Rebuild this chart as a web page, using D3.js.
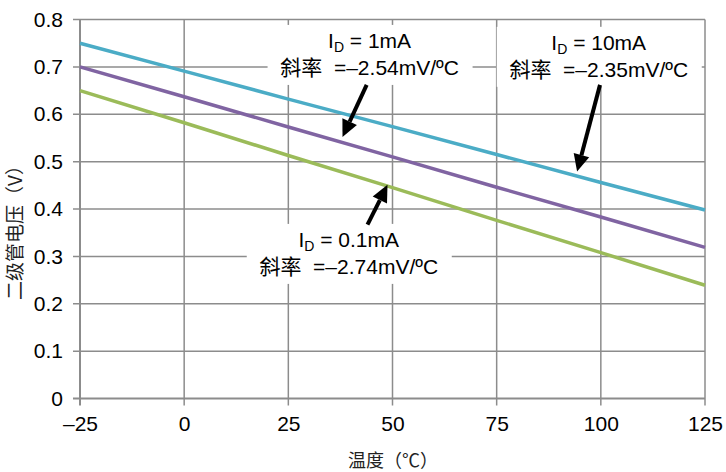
<!DOCTYPE html>
<html><head><meta charset="utf-8">
<script src="https://cdn.jsdelivr.net/npm/d3@7"></script>
<style>body{margin:0;background:#fff}svg{display:block}</style>
</head><body><svg id="c" width="726" height="472"></svg>
<script>
const temps = [-25, 0, 25, 50, 75, 100, 125];
const xTickLabels = ["–25", "0", "25", "50", "75", "100", "125"];
const yTicks = [0, 0.1, 0.2, 0.3, 0.4, 0.5, 0.6, 0.7, 0.8];
const yTickLabels = ["0", "0.1", "0.2", "0.3", "0.4", "0.5", "0.6", "0.7", "0.8"];
const v10mA = [0.750, 0.691, 0.632, 0.574, 0.515, 0.456, 0.398];
const v1mA = [0.700, 0.637, 0.573, 0.510, 0.446, 0.383, 0.319];
const v01mA = [0.650, 0.582, 0.513, 0.445, 0.376, 0.308, 0.239];
const seriesNames = ["10mA", "1mA", "0.1mA"];
const seriesColors = ["#4bacc6", "#8064a2", "#9bbb59"];
const annCurrent = ["1mA", "10mA", "0.1mA"];
const annSlope = ["–2.54", "–2.35", "–2.74"];
const annTextX = [44.5, 99.5, 39.5];
const annTextY = [0.740, 0.736, 0.320];
const annTailX = [43.8, 99.8, 44.0];
const annTailY = [0.662, 0.662, 0.367];
const annTipX = [38.0, 94.3, 48.8];
const annTipY = [0.552, 0.479, 0.451];

const svg = d3.select("#c");
const font = "'Liberation Sans', Arial, 'Noto Sans CJK SC', sans-serif";
const x = d3.scaleLinear().domain([-25, 125]).range([80, 705]);
const y = d3.scaleLinear().domain([0, 0.8]).range([398.5, 19.5]);
const grid = "#8c8c8c";

// horizontal gridlines
svg.append("g").selectAll("line").data(yTicks).join("line")
  .attr("x1", 73).attr("x2", x(125)).attr("y1", d => y(d)).attr("y2", d => y(d))
  .attr("stroke", grid).attr("stroke-width", d => d === 0 ? 2 : 1.5);
// vertical gridlines
svg.append("g").selectAll("line").data(temps).join("line")
  .attr("x1", d => x(d)).attr("x2", d => x(d)).attr("y1", y(0.8)).attr("y2", y(0) + 7)
  .attr("stroke", grid).attr("stroke-width", d => d === -25 ? 2 : 1.5);

// axes labels via d3 axes
const ax = svg.append("g").attr("transform", `translate(0,${y(0)})`)
  .call(d3.axisBottom(x).tickValues(temps).tickSize(0).tickPadding(18)
    .tickFormat((d, i) => xTickLabels[i]));
ax.select(".domain").remove();
ax.selectAll("text").attr("font-size", 21).attr("font-family", font).attr("fill", "#000");
const ay = svg.append("g").attr("transform", `translate(80,0)`)
  .call(d3.axisLeft(y).tickValues(yTicks).tickSize(0).tickPadding(17)
    .tickFormat((d, i) => yTickLabels[i]));
ay.select(".domain").remove();
ay.selectAll("text").attr("font-size", 21).attr("font-family", font).attr("fill", "#000");

// series lines
const allSeries = [v10mA, v1mA, v01mA];
const line = d3.line().x((d, i) => x(temps[i])).y(d => y(d));
svg.append("g").selectAll("path").data(allSeries).join("path")
  .attr("d", d => line(d)).attr("fill", "none")
  .attr("stroke", (d, i) => seriesColors[i]).attr("stroke-width", 3.5);

// annotations
const ann = svg.append("g");
annCurrent.forEach((c, i) => {
  const cx = x(annTextX[i]), by = y(annTextY[i]);
  ann.append("rect").attr("x", cx - 102).attr("y", by - 23).attr("width", 205).attr("height", 60)
    .attr("fill", "#fff");
  const t1 = ann.append("text").attr("x", cx).attr("y", by).attr("text-anchor", "middle")
    .attr("font-family", font).attr("font-size", 21).attr("fill", "#000");
  t1.append("tspan").text("I");
  t1.append("tspan").attr("font-size", 14).attr("dy", 4).text("D");
  t1.append("tspan").attr("dy", -4).text(" = " + c);
  ann.append("text").attr("x", cx).attr("y", by + 27).attr("text-anchor", "middle")
    .attr("font-family", font).attr("font-size", 21).attr("fill", "#000")
    .attr("xml:space", "preserve")
    .text("斜率  =" + annSlope[i] + "mV/ºC");
  // arrow
  const x0 = x(annTailX[i]), y0 = y(annTailY[i]), x1 = x(annTipX[i]), y1 = y(annTipY[i]);
  const ang = Math.atan2(y1 - y0, x1 - x0);
  const hl = 17, hw = 8;
  const bx = x1 - hl * Math.cos(ang), by2 = y1 - hl * Math.sin(ang);
  ann.append("line").attr("x1", x0).attr("y1", y0).attr("x2", bx).attr("y2", by2)
    .attr("stroke", "#000").attr("stroke-width", 4);
  const px = -Math.sin(ang), py = Math.cos(ang);
  ann.append("path").attr("d", `M${x1},${y1}L${bx + hw * px},${by2 + hw * py}L${bx - hw * px},${by2 - hw * py}Z`)
    .attr("fill", "#000");
});

// axis titles
svg.append("text").attr("transform", `translate(22,228) rotate(-90)`).attr("text-anchor", "middle")
  .attr("font-family", "'Noto Sans CJK SC', sans-serif").attr("font-size", 19).attr("fill", "#222")
  .text("二级管电压（V）");
svg.append("text").attr("x", 393).attr("y", 467).attr("text-anchor", "middle")
  .attr("font-family", "'Noto Sans CJK SC', sans-serif").attr("font-size", 18).attr("fill", "#222")
  .text("温度（℃）");
</script></body></html>
